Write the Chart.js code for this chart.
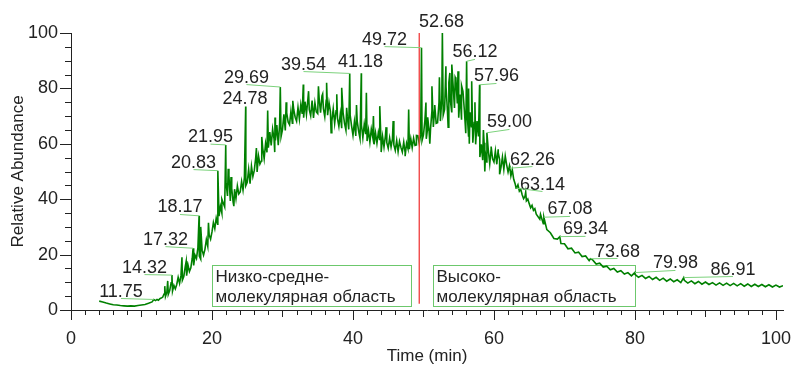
<!DOCTYPE html>
<html>
<head>
<meta charset="utf-8">
<script src="https://cdn.jsdelivr.net/npm/chart.js@4.4.1/dist/chart.umd.min.js"></script>
<style>
  html, body { margin: 0; padding: 0; background: #fff; }
</style>
</head>
<body>
<canvas id="chromatogram" width="794" height="366"></canvas>
<script>
// trace in three stretches (start time, step in min)
const startTimes = [4.0, 12.0, 66.5];
const steps = [0.5, 0.2, 0.5];

const earlyValues = [3.2, 2.9, 2.5, 2.2, 1.9, 1.8, 1.6, 1.5, 1.4, 1.5, 1.4, 1.6, 1.8, 2.0, 2.4, 2.9];

const midValues = [
    3.4, 3.8, 3.5, 4.1, 4.3,
    4.6, 5.8, 4.9, 6.5, 5.6,
    7.0, 9.8, 6.8, 8.9, 7.6,
    9.2, 11.8, 9.6, 12.4, 10.8,
    12.1, 15.6, 12.4, 16.2, 13.9,
    15.2, 18.7, 16.1, 19.8, 18.6,
    22.4, 19.5, 18.4, 21.6, 19.8,
    21.9, 25.4, 23.0, 27.1, 25.6,
    28.2, 31.6, 29.4, 33.2, 31.0,
    33.9, 37.4, 35.0, 38.6, 37.2,
    45.8, 41.2, 48.6, 39.4, 43.8,
    38.9, 43.6, 40.2, 44.8, 41.9,
    42.6, 46.4, 43.3, 47.8, 44.9,
    46.1, 50.8, 45.6, 51.9, 48.2,
    50.4, 54.9, 49.8, 55.6, 52.7,
    53.8, 58.4, 54.6, 60.1, 56.9,
    58.6, 64.2, 59.4, 65.3, 61.8,
    61.2, 66.8, 59.5, 67.4, 62.6,
    65.1, 70.6, 64.8, 71.2, 67.9,
    66.9, 71.8, 67.4, 72.3, 69.6,
    68.2, 73.1, 68.9, 74.2, 70.8,
    69.4, 75.2, 70.6, 76.1, 72.3,
    70.1, 75.6, 69.3, 74.8, 71.5,
    70.9, 76.4, 71.2, 77.3, 72.8,
    69.8, 75.7, 70.3, 74.9, 71.6,
    68.1, 72.6, 67.4, 71.9, 69.2,
    66.3, 70.8, 65.6, 71.2, 67.4,
    64.9, 69.8, 65.2, 70.4, 66.5,
    63.1, 67.9, 62.8, 68.2, 64.6,
    61.9, 66.8, 62.2, 67.1, 63.5,
    61.0, 64.9, 60.6, 65.3, 62.4,
    59.8, 63.9, 60.2, 64.1, 61.3,
    59.2, 62.6, 58.8, 62.9, 60.4,
    58.4, 62.1, 58.9, 61.8, 59.6,
    57.6, 61.2, 57.2, 60.9, 58.7,
    57.0, 60.6, 56.8, 60.2, 58.3,
    58.1, 61.8, 58.6, 62.0, 59.4,
    59.6, 62.9, 60.1, 63.4, 61.2,
    63.2, 68.4, 61.8, 69.6, 64.7,
    65.3, 71.9, 66.1, 72.8, 67.4,
    67.6, 74.9, 68.2, 76.3, 70.4,
    72.4, 80.6, 71.8, 82.1, 75.9,
    71.6, 81.2, 72.9, 83.4, 74.6,
    69.4, 77.8, 68.7, 78.9, 72.1,
    63.8, 70.9, 62.6, 71.4, 66.2,
    60.4, 67.7, 59.8, 68.2, 62.7,
    55.2, 59.8, 54.1, 60.4, 56.3,
    53.2, 57.6, 52.8, 58.1, 54.6,
    53.4, 57.4, 52.6, 58.0, 54.3,
    51.6, 55.2, 50.8, 55.6, 52.4,
    49.8, 52.1, 48.4, 50.6, 47.2,
    45.6, 44.1, 45.2, 42.9, 43.6,
    41.6, 40.2, 41.0, 39.4, 40.1,
    38.4, 36.9, 37.8, 36.0, 36.6,
    34.6
];

const tailValues = [
    32.8, 31.2, 29.0, 27.9, 25.8, 25.6, 24.0, 23.9, 22.1, 22.3,
    20.6, 20.9, 19.3, 19.5, 17.8, 18.1, 16.6, 16.9, 15.5, 15.8,
    14.5, 15.0, 13.7, 14.2, 13.0, 13.5, 12.3, 12.9, 11.8, 12.5,
    11.4, 12.1, 11.0, 11.8, 10.7, 11.5, 10.4, 11.2, 10.2, 10.9,
    9.9, 10.7, 9.7, 10.5, 9.5, 10.3, 9.3, 10.1, 9.2, 9.9,
    9.0, 9.8, 8.9, 9.7, 8.8, 9.6, 8.7, 9.5, 8.6, 9.4,
    8.5, 9.3, 8.5, 9.2, 8.4, 9.1, 8.3, 9.0, 8.3, 8.8
];

// narrow unlabelled peaks and dips
const spikeTimes = [13.3, 13.72, 15.74, 16.34, 18.4, 19.5, 21.4, 22.3, 22.7, 23.1, 26.3, 27.06,
    27.9, 28.94, 28.9, 30.52, 31.46, 32.95, 33.7, 35.1, 35.7, 36.26, 36.9, 37.7, 38.4, 39.1,
    40.5, 41.9, 42.9, 43.8, 44.0, 44.7, 45.7, 47.4, 47.9, 49.0, 50.35, 50.56, 50.9, 51.2,
    51.6, 52.26, 53.18, 53.5, 53.74, 54.02, 54.5, 54.9, 55.4, 56.4, 56.5, 56.84, 57.3, 58.5,
    58.7, 59.6, 60.6, 60.8, 64.5, 66.6];
const spikeHeights = [8.6, 10.5, 19.0, 17.6, 30.0, 31.5, 40.0, 51.0, 48.0, 37.5, 58.5, 62.5,
    72.0, 69.5, 57.0, 75.0, 75.5, 81.4, 79.0, 80.8, 78.0, 82.0, 64.0, 77.9, 80.2, 73.0,
    74.0, 78.4, 70.0, 73.6, 57.0, 66.0, 68.2, 55.5, 72.4, 63.0, 74.9, 65.0, 60.0, 80.8,
    74.0, 84.0, 88.0, 66.0, 85.6, 88.6, 84.0, 86.2, 81.0, 80.0, 60.0, 82.6, 75.0, 65.0,
    50.0, 59.0, 56.8, 49.0, 42.5, 34.5];

// labelled peaks: where the peak is, and where its label text sits (centre, baseline)
const peakLabels = ['11.75', '14.32', '17.32', '18.17', '20.83', '21.95', '24.78', '29.69', '39.54',
    '41.18', '49.72', '52.68', '56.12', '57.96', '59.00', '62.26', '63.14', '67.08', '69.34',
    '73.68', '79.98', '86.91'];
const peakTimes = [11.75, 14.32, 17.32, 18.17, 20.83, 21.95, 24.78, 29.69, 39.54, 41.18, 49.72,
    52.68, 56.12, 57.96, 59.00, 62.26, 63.14, 67.08, 69.34, 73.68, 79.98, 86.91];
const peakHeights = [3.8, 12.6, 22.3, 34.0, 50.3, 59.6, 73.5, 80.5, 85.4, 85.5, 94.7,
    100, 89.8, 81.3, 64.0, 51.2, 44.0, 33.5, 26.5, 18.5, 13.5, 11.7];
const labelTimes = [7.09, 10.43, 13.4, 15.46, 17.38, 19.79, 24.68, 24.89, 32.98, 41.06, 44.47,
    52.55, 57.3, 60.35, 62.2, 65.46, 66.88, 70.78, 72.98, 77.52, 85.74, 93.9];
const labelLevels = [4.87, 13.5, 23.6, 35.2, 51.4, 60.6, 74.2, 82.1, 86.8, 87.9, 95.8,
    102.3, 91.2, 82.5, 65.9, 52.5, 43.5, 34.5, 27.3, 19.3, 15.0, 12.8];

const xTicks = [0, 20, 40, 60, 80, 100];
const yTicks = [0, 20, 40, 60, 80, 100];

// the two region boxes and the red boundary between them
const regionLines = [['Низко-средне-', 'молекулярная область'], ['Высоко-', 'молекулярная область']];
const regionFrom = [20.0, 51.35];
const regionTo = [48.2, 80.0];
const regionLow = [1.3, 1.6];
const regionHigh = [16.4, 16.4];
const boundaryTime = 49.4;
const boundaryLow = 2.3;

// build the trace points
const trace = [];
[earlyValues, midValues, tailValues].forEach((vals, s) => {
    vals.forEach((v, i) => trace.push({ x: +(startTimes[s] + i * steps[s]).toFixed(2), y: v }));
});
spikeTimes.forEach((t, i) => trace.push({ x: t, y: spikeHeights[i] }));
peakTimes.forEach((t, i) => trace.push({ x: t, y: peakHeights[i] }));
trace.sort((a, b) => a.x - b.x);

const FONT = '"Liberation Sans", Arial, sans-serif';
const INK = '#222';

const extras = {
    id: 'extras',
    beforeDatasetsDraw(chart) {
        const { ctx, scales: { x, y } } = chart;
        ctx.save();
        ctx.strokeStyle = '#6cc86c';
        ctx.lineWidth = 1;
        ctx.fillStyle = INK;
        ctx.font = '17px ' + FONT;
        ctx.textBaseline = 'middle';
        ctx.textAlign = 'left';
        regionLines.forEach((lines, i) => {
            const l = Math.round(x.getPixelForValue(regionFrom[i])) + 0.5;
            const r = Math.round(x.getPixelForValue(regionTo[i])) + 0.5;
            const t = Math.round(y.getPixelForValue(regionHigh[i])) + 0.5;
            const b = Math.round(y.getPixelForValue(regionLow[i])) + 0.5;
            ctx.strokeRect(l, t, r - l, b - t);
            lines.forEach((txt, k) => ctx.fillText(txt, l + 3, t + 11.5 + k * 20));
        });
        ctx.restore();
    },
    afterDatasetsDraw(chart) {
        const { ctx, scales: { x, y } } = chart;
        ctx.save();

        // red boundary
        ctx.strokeStyle = '#f03c3c';
        ctx.lineWidth = 1.3;
        const bx = x.getPixelForValue(boundaryTime);
        ctx.beginPath();
        ctx.moveTo(bx, y.getPixelForValue(100));
        ctx.lineTo(bx, y.getPixelForValue(boundaryLow));
        ctx.stroke();

        // minor ticks
        ctx.strokeStyle = INK;
        ctx.lineWidth = 1;
        ctx.beginPath();
        for (let t = 0; t <= 100; t += 2) {
            const px = Math.round(x.getPixelForValue(t)) + 0.5;
            const len = t % 20 === 0 ? 10 : (t % 10 === 0 ? 7 : 5);
            ctx.moveTo(px, y.bottom);
            ctx.lineTo(px, y.bottom + len);
        }
        for (let v = 0; v <= 100; v += 5) {
            const py = Math.round(y.getPixelForValue(v)) + 0.5;
            const len = v % 20 === 0 ? 11 : 6;
            ctx.moveTo(x.left, py);
            ctx.lineTo(x.left - len, py);
        }
        ctx.stroke();

        // peak labels with leaders
        ctx.font = '18px ' + FONT;
        ctx.textAlign = 'center';
        ctx.textBaseline = 'alphabetic';
        ctx.fillStyle = INK;
        ctx.strokeStyle = '#7cd27c';
        peakLabels.forEach((txt, i) => {
            const lx = x.getPixelForValue(labelTimes[i]);
            const ly = y.getPixelForValue(labelLevels[i]);
            const px = x.getPixelForValue(peakTimes[i]);
            const py = y.getPixelForValue(peakHeights[i]);
            ctx.fillText(txt, lx, ly);
            if (Math.abs(px - lx) > 4) {
                ctx.beginPath();
                ctx.moveTo(lx, ly + 2);
                ctx.lineTo(px, py);
                ctx.stroke();
            }
        });
        ctx.restore();
    }
};

Chart.defaults.font.family = FONT;
Chart.defaults.color = INK;

new Chart(document.getElementById('chromatogram').getContext('2d'), {
    type: 'line',
    data: {
        datasets: [{
            data: trace,
            borderColor: '#008000',
            borderWidth: 1.6,
            pointRadius: 0,
            tension: 0
        }]
    },
    options: {
        responsive: false,
        animation: false,
        events: [],
        layout: { padding: { top: 33, right: 11, left: 0, bottom: 0 } },
        plugins: { legend: { display: false }, tooltip: { enabled: false } },
        scales: {
            x: {
                type: 'linear',
                min: 0,
                max: 101,
                afterBuildTicks: s => { s.ticks = xTicks.map(v => ({ value: v })); },
                afterFit: s => { s.height = 56; s.paddingLeft = 0; s.paddingRight = 0; },
                grid: { display: false, drawTicks: true, tickLength: 10 },
                border: { display: true, color: INK, width: 1 },
                ticks: { padding: 8, font: { size: 18 }, maxRotation: 0, autoSkip: false },
                title: { display: true, text: 'Time (min)', font: { size: 17, lineHeight: 1.1 }, padding: 0 }
            },
            y: {
                min: 0,
                max: 100,
                afterBuildTicks: s => { s.ticks = yTicks.map(v => ({ value: v })); },
                afterFit: s => { s.width = 71; s.paddingTop = 0; s.paddingBottom = 0; },
                grid: { display: false, drawTicks: true, tickLength: 11 },
                border: { display: true, color: INK, width: 1 },
                ticks: { padding: 2, font: { size: 18 } },
                title: { display: true, text: 'Relative Abundance', font: { size: 17, lineHeight: 1.2 }, padding: { top: 8, bottom: 0 } }
            }
        }
    },
    plugins: [extras]
});
</script>
</body>
</html>
